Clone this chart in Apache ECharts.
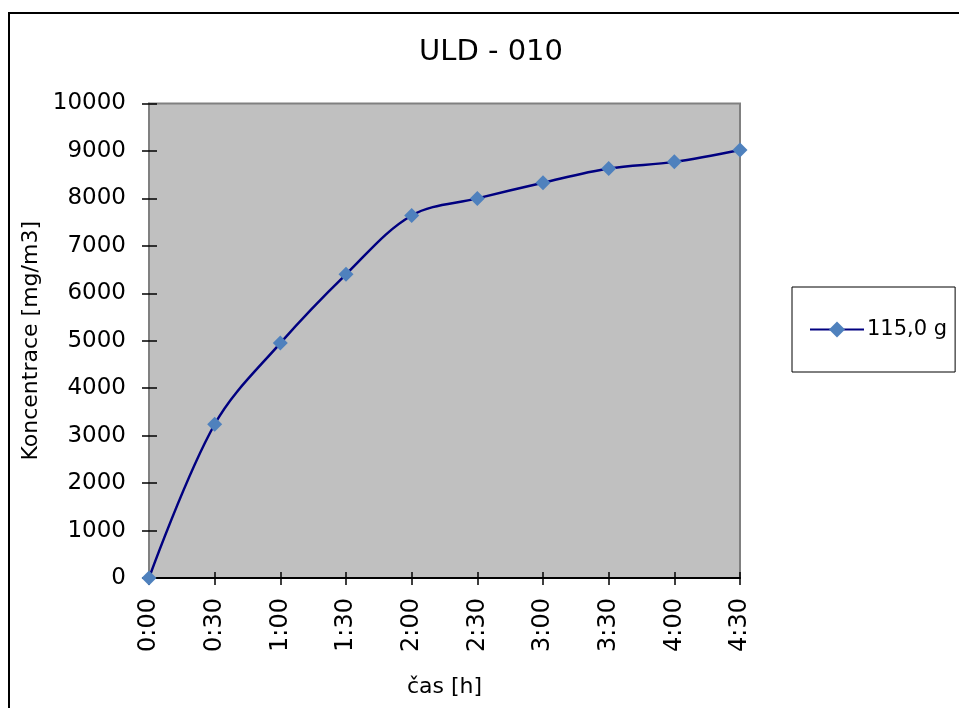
<!DOCTYPE html>
<html>
<head>
<meta charset="utf-8">
<script src="https://cdn.jsdelivr.net/npm/echarts@6/dist/echarts.min.js"></script>
<style>
  html, body { margin: 0; padding: 0; background: #ffffff; }
  #chart { width: 959px; height: 708px; }
</style>
</head>
<body>
<div id="chart"></div>
<script>
// Time points (h:mm) and measured concentration in mg/m3
const categories = ['0:00', '0:30', '1:00', '1:30', '2:00', '2:30', '3:00', '3:30', '4:00', '4:30'];
const concentration = [0, 3240, 4950, 6400, 7640, 8000, 8330, 8630, 8770, 9020];
const seriesName = '115,0 g';
const chartTitle = 'ULD - 010';
const yAxisName = 'Koncentrace [mg/m3]';
const xAxisName = 'čas [h]';
const yMin = 0, yMax = 10000, yStep = 1000;

const FONT = 'DejaVu Sans';
const chart = echarts.init(document.getElementById('chart'), null, { renderer: 'canvas' });

const valueAxisBase = {
  type: 'value', min: yMin, max: yMax, interval: yStep,
  splitLine: { show: false }
};

chart.setOption({
  animation: false,
  backgroundColor: '#ffffff',
  title: {
    text: chartTitle,
    left: 486, top: 33, textAlign: 'center',
    textStyle: { fontFamily: FONT, fontSize: 29, fontWeight: 'normal', color: '#000' }
  },
  legend: {
    left: 792, top: 287,
    orient: 'vertical',
    padding: [32, 8, 32, 17],
    borderColor: '#000', borderWidth: 1,
    itemWidth: 54, itemHeight: 20, itemGap: 0,
    textStyle: { fontFamily: FONT, fontSize: 21, color: '#000', padding: [0, 0, 0, -2] },
    data: [seriesName]
  },
  graphic: [{
    type: 'rect', silent: true, z: 100,
    shape: { x: 9, y: 13, width: 1000, height: 1000 },
    style: { fill: null, stroke: '#000', lineWidth: 2 }
  }],
  grid: {
    left: 149, right: 219, top: 103.5, bottom: 130,
    show: true, backgroundColor: '#c0c0c0', borderColor: '#808080', borderWidth: 2
  },
  xAxis: [{
    type: 'category', data: categories, boundaryGap: false,
    name: xAxisName, nameLocation: 'middle', nameGap: 98,
    nameTextStyle: { fontFamily: FONT, fontSize: 22, color: '#000' },
    axisLine: { show: true, lineStyle: { color: '#000', width: 2 } },
    axisTick: { show: true, inside: false, length: 7, lineStyle: { color: '#000', width: 1.5 } },
    axisLabel: { rotate: 90, margin: 20, fontFamily: FONT, fontSize: 24, color: '#000' },
    splitLine: { show: false }
  }, {
    type: 'category', data: categories, boundaryGap: false, position: 'bottom',
    axisLine: { show: false },
    axisTick: { show: true, inside: true, length: 6, lineStyle: { color: '#000', width: 1.5 } },
    axisLabel: { show: false },
    splitLine: { show: false }
  }],
  yAxis: [Object.assign({}, valueAxisBase, {
    name: yAxisName, nameLocation: 'middle', nameGap: 104,
    nameTextStyle: { fontFamily: FONT, fontSize: 22, color: '#000' },
    axisLine: { show: true, lineStyle: { color: '#808080', width: 2 } },
    axisTick: { show: true, inside: false, length: 7, lineStyle: { color: '#000', width: 1.5 } },
    axisLabel: { margin: 23, fontFamily: FONT, fontSize: 23, color: '#000', formatter: v => String(v) }
  }), Object.assign({}, valueAxisBase, {
    position: 'left',
    axisLine: { show: false },
    axisTick: { show: true, inside: true, length: 8, lineStyle: { color: '#000', width: 1.5 } },
    axisLabel: { show: false }
  })],
  series: [{
    name: seriesName,
    type: 'line',
    data: concentration,
    xAxisIndex: 0, yAxisIndex: 0,
    smooth: 0.35,
    symbol: 'diamond', symbolSize: 15,
    showAllSymbol: true,
    lineStyle: { color: '#000080', width: 2.5 },
    itemStyle: { color: '#4f81bd', borderWidth: 0 },
    z: 5
  }]
});
</script>
</body>
</html>
